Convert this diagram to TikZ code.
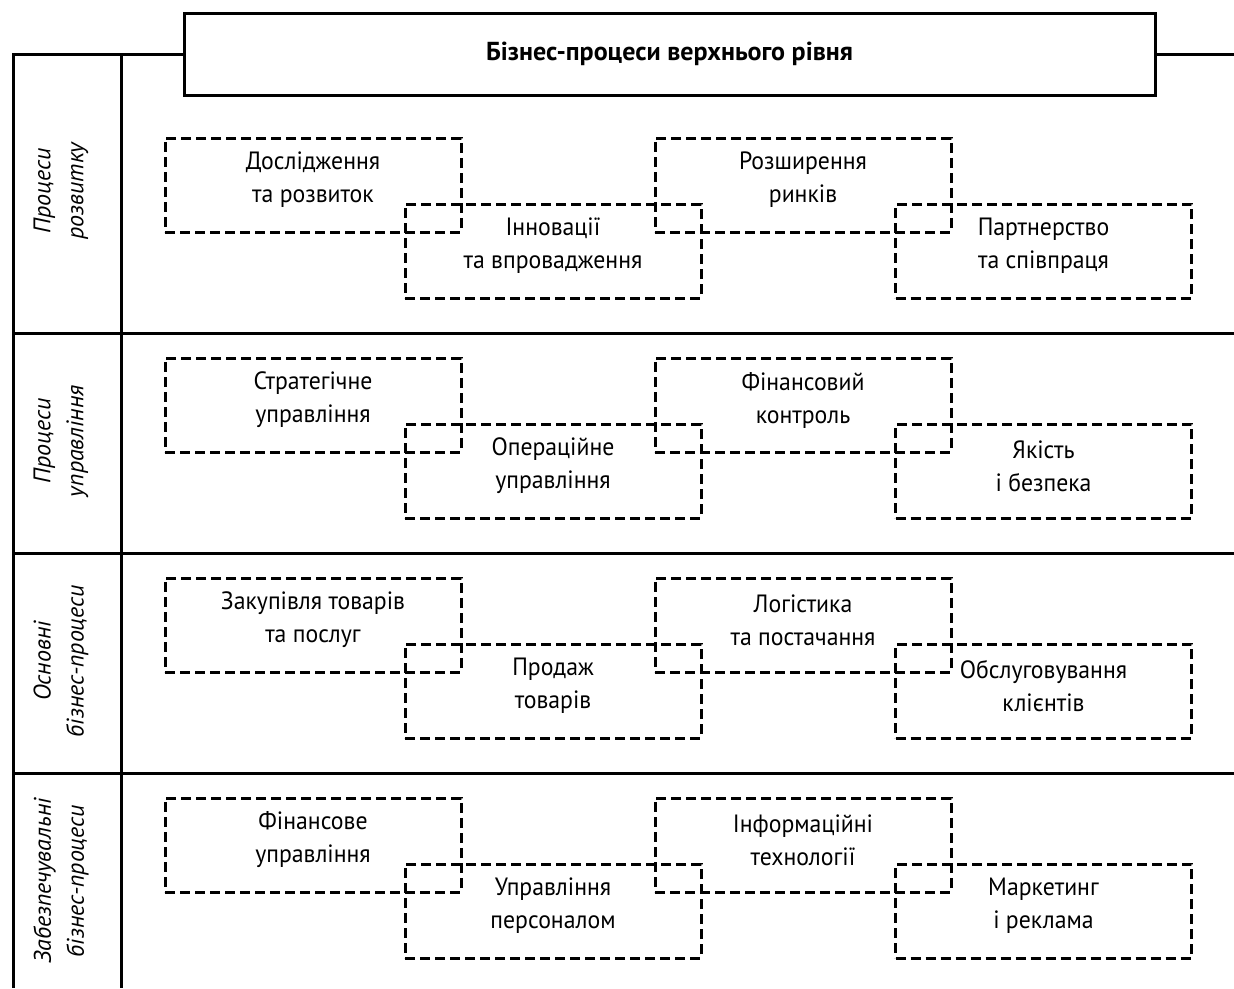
\documentclass[tikz,border=0pt]{standalone}
\usepackage{fontspec}
\setmainfont{PT Sans}
\newfontfamily\boxfont[FakeStretch=0.95]{PT Sans}
\usetikzlibrary{positioning}

\tikzset{
  procbox/.style={draw, dash pattern=on 10pt off 5pt, line width=3pt,
    minimum width=296pt, minimum height=94pt},
  proctext/.style={align=center, yshift=5pt, text=black,
    font=\boxfont\fontsize{25}{33}\selectfont},
  bandlabel/.style={rotate=90, align=center, text=black,
    font=\fontsize{24}{33}\selectfont\itshape},
  frameline/.style={line width=3pt},
}

\begin{document}
\begin{tikzpicture}[x=1pt, y=-1pt]
    \useasboundingbox (0,0) rectangle (1234,988);

    % top level
    \node[draw, frameline, minimum width=971pt, minimum height=82pt,
      font=\fontsize{26}{30}\selectfont\bfseries, text=black] (top) at (669.5,54) {Бізнес-процеси верхнього рівня};
    \draw[frameline] (top.west) -- (13,54) -- (13,988);
    \draw[frameline] (top.east) -- (1234,54);
    \draw[frameline] (121,54) -- (121,988);
    \foreach \y in {333, 553, 773} {
        \draw[frameline] (13,\y) -- (1234,\y);
    }

    % band labels
    \foreach \k/\y/\w in {0/191/{Процеси\\розвитку}, 1/441/{Процеси\\управління},
                          2/661/{Основні\\бізнес-процеси}, 3/881/{Забезпечувальні\\бізнес-процеси}} {
        \node[bandlabel] (lab\k) at (61,\y) {\w};
    }

    % processes
    \foreach \k/\a/\b/\c/\d in {
        0/{Дослідження\\та розвиток}/{Інновації\\та впровадження}/{Розширення\\ринків}/{Партнерство\\та співпраця},
        1/{Стратегічне\\управління}/{Операційне\\управління}/{Фінансовий\\контроль}/{Якість\\і безпека},
        2/{Закупівля товарів\\та послуг}/{Продаж\\товарів}/{Логістика\\та постачання}/{Обслуговування\\клієнтів},
        3/{Фінансове\\управління}/{Управління\\персоналом}/{Інформаційні\\технології}/{Маркетинг\\і реклама}} {
        \node[procbox, label={[proctext]center:{\a}}] (a\k) at (313, 185+220*\k) {};
        \node[procbox, label={[proctext]center:{\b}}] (b\k) at (553, 251+220*\k) {};
        \node[procbox, label={[proctext]center:{\c}}] (c\k) at (803, 185+220*\k) {};
        \node[procbox, label={[proctext]center:{\d}}] (d\k) at (1043.5, 251+220*\k) {};
    }
\end{tikzpicture}
\end{document}
